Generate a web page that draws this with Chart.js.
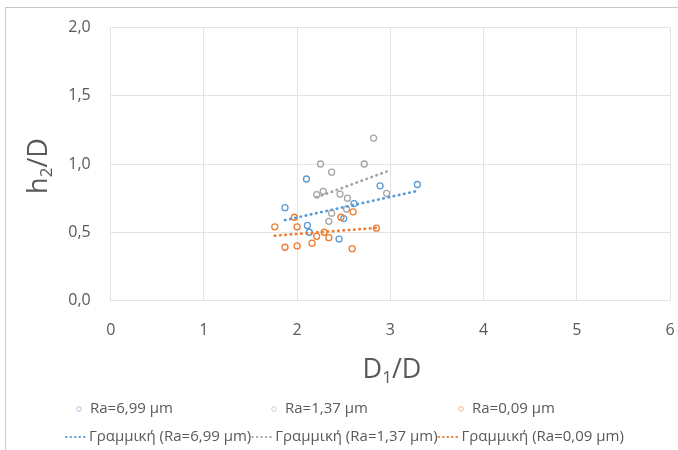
<!DOCTYPE html>
<html>
<head>
<meta charset="utf-8">
<script src="https://cdn.jsdelivr.net/npm/chart.js@4.4.1/dist/chart.umd.min.js"></script>
<style>
  html, body { margin: 0; padding: 0; background: #ffffff; }
  #wrap { width: 678px; height: 450px; position: relative; }
</style>
</head>
<body>
<div id="wrap"><canvas id="c" width="678" height="450"></canvas></div>
<script>
// Measurements: D1/D against h2/D for three surface roughness values
const ra699X = [2.10, 1.87, 2.89, 3.29, 2.61, 2.11, 2.13, 2.45, 2.50];
const ra699Y = [0.89, 0.68, 0.84, 0.85, 0.71, 0.55, 0.50, 0.45, 0.60];

const ra137X = [2.82, 2.25, 2.72, 2.37, 2.21, 2.28, 2.46, 2.54, 2.96, 2.53, 2.37, 2.34];
const ra137Y = [1.19, 1.00, 1.00, 0.94, 0.775, 0.80, 0.78, 0.75, 0.785, 0.67, 0.64, 0.58];

const ra009X = [1.76, 2.00, 1.97, 2.47, 2.60, 2.85, 2.21, 2.29, 2.34, 2.16, 1.87, 2.00, 2.59];
const ra009Y = [0.54, 0.54, 0.61, 0.61, 0.65, 0.53, 0.47, 0.50, 0.46, 0.42, 0.39, 0.40, 0.38];

const seriesNames = ['Ra=6,99 µm', 'Ra=1,37 µm', 'Ra=0,09 µm'];
const trendNames = ['Γραμμική (Ra=6,99 µm)', 'Γραμμική (Ra=1,37 µm)', 'Γραμμική (Ra=0,09 µm)'];

const xTickLabels = ['0', '1', '2', '3', '4', '5', '6'];
const yTickLabels = ['0,0', '0,5', '1,0', '1,5', '2,0'];

const xTitle = { main: 'D', sub: '1', rest: '/D' };
const yTitle = { main: 'h', sub: '2', rest: '/D' };

const colors = ['#5B9BD5', '#A5A5A5', '#ED7D31'];

function toPoints(xs, ys) {
  return xs.map((x, i) => ({ x: x, y: ys[i] }));
}

// Least-squares straight line across the x range of a series
function linearFit(xs, ys) {
  const n = xs.length;
  const mx = xs.reduce((a, b) => a + b, 0) / n;
  const my = ys.reduce((a, b) => a + b, 0) / n;
  let sxy = 0, sxx = 0;
  for (let i = 0; i < n; i++) {
    sxy += (xs[i] - mx) * (ys[i] - my);
    sxx += (xs[i] - mx) * (xs[i] - mx);
  }
  const b = sxy / sxx;
  const a = my - b * mx;
  const x0 = Math.min(...xs), x1 = Math.max(...xs);
  return [{ x: x0, y: a + b * x0 }, { x: x1, y: a + b * x1 }];
}

const FONT = '"Open Sans", "Noto Sans", sans-serif';
const TEXT = '#595959';

const scatterSet = (label, xs, ys, color, order) => ({
  type: 'scatter',
  label: label,
  data: toPoints(xs, ys),
  borderColor: color,
  backgroundColor: 'rgba(0,0,0,0)',
  pointRadius: 3,
  pointBorderWidth: 1.3,
  pointHoverRadius: 3,
  order: order
});

const trendSet = (label, xs, ys, color, order) => ({
  type: 'line',
  label: label,
  data: linearFit(xs, ys),
  borderColor: color,
  borderWidth: 2.7,
  borderDash: [0.5, 4.8],
  borderCapStyle: 'round',
  pointRadius: 0,
  fill: false,
  order: order
});

// Frame, axis titles and the two-row legend
const decorations = {
  id: 'decorations',
  beforeDraw(chart) {
    const ctx = chart.ctx;
    ctx.save();
    ctx.fillStyle = '#ffffff';
    ctx.fillRect(0, 0, chart.width, chart.height);
    ctx.strokeStyle = '#c8c8c8';
    ctx.lineWidth = 1;
    ctx.strokeRect(5.5, 7.5, 800, 600);
    ctx.restore();
  },
  afterDraw(chart) {
    const ctx = chart.ctx;
    ctx.save();
    ctx.fillStyle = TEXT;

    const drawTitle = (t, size) => {
      const subSize = Math.round(size * 0.62);
      ctx.font = size + 'px ' + FONT;
      const w1 = ctx.measureText(t.main).width;
      ctx.font = subSize + 'px ' + FONT;
      const w2 = ctx.measureText(t.sub).width;
      ctx.font = size + 'px ' + FONT;
      const w3 = ctx.measureText(t.rest).width;
      let x = -(w1 + w2 + w3) / 2;
      ctx.textBaseline = 'alphabetic';
      ctx.textAlign = 'left';
      ctx.fillText(t.main, x, size * 0.36);
      x += w1;
      ctx.font = subSize + 'px ' + FONT;
      ctx.fillText(t.sub, x, size * 0.36 + size * 0.2);
      x += w2;
      ctx.font = size + 'px ' + FONT;
      ctx.fillText(t.rest, x, size * 0.36);
    };

    // x axis title
    ctx.save();
    ctx.translate(392, 368);
    drawTitle(xTitle, 27);
    ctx.restore();

    // y axis title
    ctx.save();
    ctx.translate(37, 166);
    ctx.rotate(-Math.PI / 2);
    drawTitle(yTitle, 27);
    ctx.restore();

    // legend row 1: markers
    ctx.font = '15px ' + FONT;
    ctx.textBaseline = 'middle';
    ctx.textAlign = 'left';
    const markerX = [79, 274, 461];
    const rowY1 = 409;
    for (let i = 0; i < 3; i++) {
      ctx.beginPath();
      ctx.arc(markerX[i], rowY1, 2.3, 0, Math.PI * 2);
      ctx.strokeStyle = colors[i];
      ctx.globalAlpha = 0.55;
      ctx.lineWidth = 1;
      ctx.stroke();
      ctx.globalAlpha = 1;
      ctx.fillStyle = TEXT;
      ctx.fillText(seriesNames[i], markerX[i] + 11, rowY1);
    }

    // legend row 2: trendline samples
    const rowY2 = 437;
    let x = 65;
    for (let i = 0; i < 3; i++) {
      ctx.beginPath();
      ctx.setLineDash([0.5, 4]);
      ctx.lineCap = 'round';
      ctx.lineWidth = 2;
      ctx.strokeStyle = colors[i];
      ctx.moveTo(x + 1, rowY2);
      ctx.lineTo(x + 22, rowY2);
      ctx.stroke();
      ctx.setLineDash([]);
      ctx.fillStyle = TEXT;
      ctx.fillText(trendNames[i], x + 24, rowY2, 166);
      x += 24 + Math.min(ctx.measureText(trendNames[i]).width, 166);
    }
    ctx.restore();
  }
};

new Chart(document.getElementById('c'), {
  data: {
    datasets: [
      scatterSet(seriesNames[0], ra699X, ra699Y, colors[0], 6),
      scatterSet(seriesNames[1], ra137X, ra137Y, colors[1], 5),
      scatterSet(seriesNames[2], ra009X, ra009Y, colors[2], 4),
      trendSet(trendNames[0], ra699X, ra699Y, colors[0], 3),
      trendSet(trendNames[1], ra137X, ra137Y, colors[1], 2),
      trendSet(trendNames[2], ra009X, ra009Y, colors[2], 1)
    ]
  },
  options: {
    responsive: false,
    animation: false,
    layout: { padding: { left: 0, right: 8, top: 27.5, bottom: 0 } },
    plugins: {
      legend: { display: false },
      tooltip: { enabled: false },
      title: { display: false }
    },
    scales: {
      x: {
        type: 'linear',
        min: 0, max: 6,
        border: { display: false },
        grid: { color: '#e3e3e3', lineWidth: 1, drawTicks: false },
        ticks: {
          stepSize: 1,
          padding: 20,
          color: TEXT,
          font: { family: FONT, size: 16 },
          callback: (v) => xTickLabels[Math.round(v)]
        },
        afterFit: (s) => { s.height = 149.5; s.paddingLeft = 0; s.paddingRight = 0; }
      },
      y: {
        type: 'linear',
        min: 0, max: 2,
        border: { display: false },
        grid: { color: '#e3e3e3', lineWidth: 1, drawTicks: false },
        ticks: {
          stepSize: 0.5,
          padding: 20,
          color: TEXT,
          font: { family: FONT, size: 16 },
          callback: (v) => yTickLabels[Math.round(v * 2)]
        },
        afterFit: (s) => { s.width = 110.7; s.paddingTop = 0; s.paddingBottom = 0; }
      }
    }
  },
  plugins: [decorations]
});
</script>
</body>
</html>
